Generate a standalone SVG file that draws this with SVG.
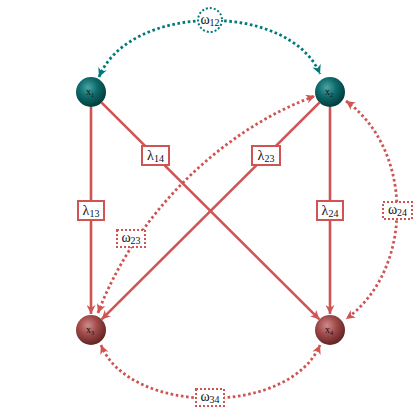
<svg xmlns="http://www.w3.org/2000/svg" width="420" height="420" viewBox="0 0 420 420">
<style>
.solid{fill:none;stroke:#d05454;stroke-width:2.6}
.dotr{fill:none;stroke:#d05454;stroke-width:2.8;stroke-dasharray:2.6 2.6}
.dott{fill:none;stroke:#007a7a;stroke-width:2.8;stroke-dasharray:2.6 2.6}
.box{fill:#fff;stroke:#d05454;stroke-width:2}
.dbox{fill:#fff;stroke:#d05454;stroke-width:2;stroke-dasharray:2 2}
.dcirc{fill:#fff;stroke:#007a7a;stroke-width:2;stroke-dasharray:2 2}
.lbl{font-family:"Liberation Serif","DejaVu Serif",serif;font-size:14px;fill:#111;text-anchor:middle}
.nl{font-family:"Liberation Serif","DejaVu Serif",serif;font-size:10px;fill:#111;text-anchor:middle}
</style>
<defs>
<radialGradient id="gt" cx="0.4" cy="0.35" r="0.7">
<stop offset="0" stop-color="#4aa5a5"/>
<stop offset="0.45" stop-color="#0e6a6a"/>
<stop offset="1" stop-color="#003535"/>
</radialGradient>
<radialGradient id="gr" cx="0.4" cy="0.35" r="0.7">
<stop offset="0" stop-color="#d08a8a"/>
<stop offset="0.45" stop-color="#a04a4a"/>
<stop offset="1" stop-color="#5a1e1e"/>
</radialGradient>
<marker id="ar" viewBox="0 0 10 10" refX="10" refY="5" markerWidth="10" markerHeight="9" markerUnits="userSpaceOnUse" orient="auto-start-reverse">
<path d="M0,0 L10,5 L0,10 L3,5 z" fill="#d05454"/>
</marker>
<marker id="at" viewBox="0 0 10 10" refX="10" refY="5" markerWidth="10" markerHeight="9" markerUnits="userSpaceOnUse" orient="auto-start-reverse">
<path d="M0,0 L10,5 L0,10 L3,5 z" fill="#007a7a"/>
</marker>
</defs>
<g id="connectors">
<path class="solid" d="M91,107 L91,314" marker-end="url(#ar)"/>
<path class="solid" d="M330,107 L330,314" marker-end="url(#ar)"/>
<path class="solid" d="M101.6,102.6 L319.4,319.4" marker-end="url(#ar)"/>
<path class="solid" d="M319.4,102.6 L101.6,319.4" marker-end="url(#ar)"/>
<path class="dott" d="M99,77 C130,2 290,2 320,74" marker-start="url(#at)" marker-end="url(#at)"/>
<path class="dotr" d="M98,313 C135,215 221,130 315,96" marker-start="url(#ar)" marker-end="url(#ar)"/>
<path class="dotr" d="M346,101 C414,150 414,270 346,319" marker-start="url(#ar)" marker-end="url(#ar)"/>
<path class="dotr" d="M101,345 C130,416 290,416 320,345" marker-start="url(#ar)" marker-end="url(#ar)"/>
</g>
<g id="l12"><circle class="dcirc" cx="210" cy="20" r="12"/><text class="lbl" x="210" y="24">ω<tspan font-size="10" dy="2">12</tspan></text></g>
<g id="l14"><rect class="box" x="142" y="146" width="27" height="19"/><text class="lbl" x="155.5" y="160">λ<tspan font-size="10" dy="2">14</tspan></text></g>
<g id="l23"><rect class="box" x="252" y="146" width="28" height="19"/><text class="lbl" x="266" y="160">λ<tspan font-size="10" dy="2">23</tspan></text></g>
<g id="l13"><rect class="box" x="78" y="201" width="26" height="19"/><text class="lbl" x="91" y="215">λ<tspan font-size="10" dy="2">13</tspan></text></g>
<g id="l24"><rect class="box" x="317" y="201" width="26" height="19"/><text class="lbl" x="330" y="215">λ<tspan font-size="10" dy="2">24</tspan></text></g>
<g id="w23"><rect class="dbox" x="117" y="230" width="28" height="17"/><text class="lbl" x="131" y="242">ω<tspan font-size="10" dy="2">23</tspan></text></g>
<g id="w24"><rect class="dbox" x="383" y="202" width="29" height="17"/><text class="lbl" x="397.5" y="214">ω<tspan font-size="10" dy="2">24</tspan></text></g>
<g id="w34"><rect class="dbox" x="196" y="389" width="28" height="17"/><text class="lbl" x="210" y="401">ω<tspan font-size="10" dy="2">34</tspan></text></g>
<g id="x1"><circle cx="91" cy="92" r="15" fill="url(#gt)"/><text class="nl" x="90" y="95">x<tspan font-size="6" dy="1.5">1</tspan></text></g>
<g id="x2"><circle cx="330" cy="92" r="15" fill="url(#gt)"/><text class="nl" x="329" y="95">x<tspan font-size="6" dy="1.5">2</tspan></text></g>
<g id="x3"><circle cx="91" cy="330" r="15" fill="url(#gr)"/><text class="nl" x="90" y="333">x<tspan font-size="6" dy="1.5">3</tspan></text></g>
<g id="x4"><circle cx="330" cy="330" r="15" fill="url(#gr)"/><text class="nl" x="329" y="333">x<tspan font-size="6" dy="1.5">4</tspan></text></g>
</svg>
